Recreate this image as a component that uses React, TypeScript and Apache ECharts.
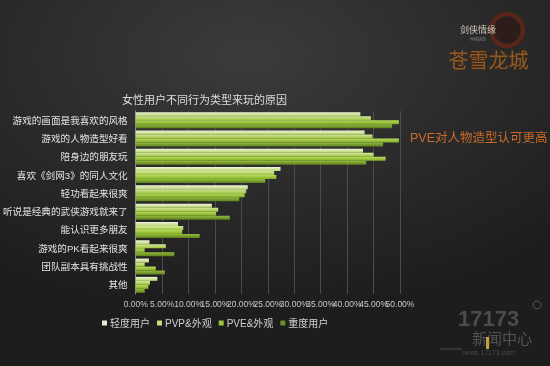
import React, { useEffect, useRef } from "react";
import * as echarts from "echarts";

const categories = [
  "游戏的画面是我喜欢的风格",
  "游戏的人物造型好看",
  "陪身边的朋友玩",
  "喜欢《剑网3》的同人文化",
  "轻功看起来很爽",
  "听说是经典的武侠游戏就来了",
  "能认识更多朋友",
  "游戏的PK看起来很爽",
  "团队副本具有挑战性",
  "其他",
];
const seriesNames = ["轻度用户", "PVP&外观", "PVE&外观", "重度用户"];
const lightUsers = [42.5, 43.3, 43.0, 27.4, 21.2, 14.4, 8.0, 2.6, 2.5, 4.1];
const pvpUsers = [44.5, 44.8, 45.0, 26.2, 20.9, 15.6, 9.0, 5.7, 1.7, 2.7];
const pveUsers = [49.8, 49.8, 47.3, 26.6, 20.6, 15.2, 8.8, 1.7, 3.8, 2.4];
const heavyUsers = [48.5, 46.8, 43.6, 24.5, 19.6, 17.8, 12.1, 7.3, 5.5, 1.7];
const xTicksEven = [0, 10, 20, 30, 40, 50];
const xTicksOdd = [5, 15, 25, 35, 45];

const seriesValues = [lightUsers, pvpUsers, pveUsers, heavyUsers];
const barColors = [
  ["#eef5dc", "#b9d46c"],
  ["#d6ea9e", "#9cc33e"],
  ["#bcdc5e", "#80ae24"],
  ["#96bc40", "#5d801c"],
];
const legendColors = ["#e6efd2", "#c4dc84", "#9cc83c", "#6e8e2e"];

const FONT = "'Liberation Sans', 'Noto Sans CJK SC', sans-serif";

const labelBase = {
  color: "#c8c8c8",
  fontSize: 8.5,
  fontFamily: FONT,
  margin: 6,
  showMaxLabel: true,
  showMinLabel: true,
  hideOverlap: false,
};

export default function App() {
  const ref = useRef<HTMLDivElement>(null);
  useEffect(() => {
    if (!ref.current) return;
    const chart = echarts.init(ref.current, undefined, { renderer: "svg" });
    chart.setOption({
      animation: false,
      backgroundColor: "transparent",
      title: {
        text: "女性用户不同行为类型来玩的原因",
        left: 117,
        top: 89,
        textStyle: { color: "#dcdcdc", fontSize: 11, fontWeight: "normal", fontFamily: FONT },
      },
      legend: {
        left: 97,
        top: 313,
        itemWidth: 5,
        itemHeight: 5,
        itemGap: 7,
        icon: "rect",
        textStyle: { color: "#d0d0d0", fontSize: 10, fontFamily: FONT, padding: [0, 0, 0, -2] },
        data: seriesNames.map((n, i) => ({ name: n, itemStyle: { color: legendColors[i] } })),
      },
      grid: { left: 133, right: 150, top: 111, bottom: 72, containLabel: false },
      xAxis: [
        {
          type: "value",
          min: 0,
          max: 50,
          interval: 5,
          axisLine: { show: false },
          axisTick: { show: false },
          splitLine: { show: true, lineStyle: { color: "#4c4c4c", width: 1 } },
          axisLabel: {
            ...labelBase,
            formatter: (v: number) => (xTicksEven.includes(v) ? v.toFixed(2) + "%" : ""),
          },
        },
        {
          type: "value",
          position: "bottom",
          min: 0,
          max: 50,
          interval: 5,
          axisLine: { show: false },
          axisTick: { show: false },
          splitLine: { show: false },
          axisLabel: {
            ...labelBase,
            formatter: (v: number) => (xTicksOdd.includes(v) ? v.toFixed(2) + "%" : ""),
          },
        },
      ],
      yAxis: {
        type: "category",
        data: categories,
        inverse: true,
        axisLine: { show: true, lineStyle: { color: "#8a8a8a", width: 1 } },
        axisTick: { show: false },
        axisLabel: { color: "#e2e2e2", fontSize: 9.6, fontFamily: FONT, margin: 8 },
      },
      series: seriesValues.map((vals, i) => ({
        name: seriesNames[i],
        type: "bar",
        xAxisIndex: 0,
        data: vals,
        barWidth: 4,
        barGap: "0%",
        itemStyle: {
          color: new echarts.graphic.LinearGradient(0, 0, 0, 1, [
            { offset: 0, color: barColors[i][0] },
            { offset: 1, color: barColors[i][1] },
          ]),
        },
      })),
      graphic: [
        {
          type: "text",
          left: 410,
          top: 132,
          style: { text: "PVE对人物造型认可更高", fill: "#cc6a2a", fontSize: 12.5, fontFamily: FONT },
        },
        {
          type: "ring",
          shape: { cx: 507, cy: 30, r: 18, r0: 14 },
          style: { fill: "#6a2416", opacity: 0.8 },
        },
        {
          type: "circle",
          shape: { cx: 507, cy: 30, r: 13 },
          style: { fill: "#2e1814", opacity: 0.7 },
        },
        {
          type: "text",
          left: 460,
          top: 25,
          style: { text: "剑侠情缘", fill: "#cfc8b8", fontSize: 9, fontFamily: FONT },
        },
        {
          type: "text",
          left: 470,
          top: 37,
          style: { text: "网络版叁", fill: "#7a7a7a", fontSize: 4, fontFamily: FONT },
        },
        {
          type: "text",
          left: 448,
          top: 50,
          style: { text: "苍雪龙城", fill: "#8a5a2c", fontSize: 20, fontFamily: FONT, stroke: "#4a2a10", lineWidth: 1 },
        },
        {
          type: "text",
          left: 458,
          top: 307,
          style: { text: "17173", fill: "#555555", fontSize: 22, fontWeight: "bold", fontFamily: FONT, opacity: 0.85 },
        },
        {
          type: "circle",
          shape: { cx: 537, cy: 305, r: 4 },
          style: { fill: "none", stroke: "#555", lineWidth: 1 },
        },
        {
          type: "text",
          left: 472,
          top: 331,
          style: { text: "新闻中心", fill: "#5a5a5a", fontSize: 15, fontFamily: FONT, opacity: 0.9 },
        },
        {
          type: "rect",
          shape: { x: 486, y: 337, width: 3, height: 12 },
          style: { fill: "#c8a040" },
        },
        {
          type: "text",
          left: 462,
          top: 349,
          style: { text: "news.17173.com", fill: "#4a4a4a", fontSize: 7, fontFamily: FONT },
        },
        {
          type: "line",
          shape: { x1: 440, y1: 349, x2: 462, y2: 349 },
          style: { stroke: "#4a4a4a", lineWidth: 1 },
        },
      ],
    });
    return () => chart.dispose();
  }, []);
  return (
    <div
      ref={ref}
      style={{
        position: "fixed",
        left: 0,
        top: 0,
        width: 550,
        height: 366,
        background: "radial-gradient(ellipse 80% 70% at 45% 15%, #3b3b3b 0%, #2a2a2a 55%, #1d1d1d 100%)",
      }}
    />
  );
}
